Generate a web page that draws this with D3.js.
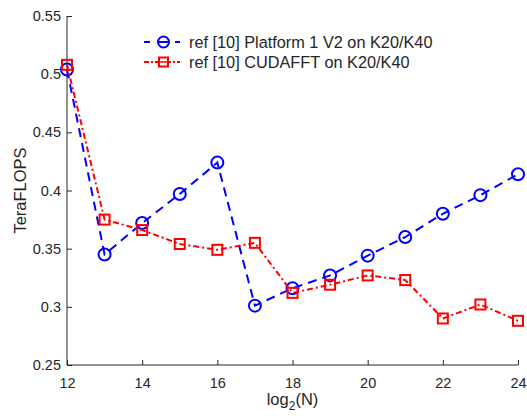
<!DOCTYPE html>
<html>
<head>
<meta charset="utf-8">
<script src="https://cdn.jsdelivr.net/npm/d3@7"></script>
<style>
  body { margin: 0; background: #fff; }
  svg text { font-family: "Liberation Sans", Arial, sans-serif; fill: #262626; }
</style>
</head>
<body>
<div id="chart"></div>
<script>
const log2N = [12, 13, 14, 15, 16, 17, 18, 19, 20, 21, 22, 23, 24];
const platformV2 = [0.504, 0.345, 0.372, 0.397, 0.424, 0.301, 0.316, 0.327, 0.344, 0.360, 0.380, 0.396, 0.414];
const cudafft    = [0.508, 0.375, 0.366, 0.354, 0.349, 0.355, 0.312, 0.319, 0.327, 0.323, 0.290, 0.302, 0.288];
const xTicks = [12, 14, 16, 18, 20, 22, 24];
const yTicks = [0.25, 0.3, 0.35, 0.4, 0.45, 0.5, 0.55];
const seriesNames = ["ref [10] Platform 1 V2 on K20/K40", "ref [10] CUDAFFT on K20/K40"];

const W = 527, H = 416;
const m = { top: 16, right: 9, bottom: 51, left: 67 };
const iw = W - m.left - m.right, ih = H - m.top - m.bottom;

const svg = d3.select("#chart").append("svg").attr("width", W).attr("height", H);
const g = svg.append("g").attr("transform", `translate(${m.left},${m.top})`);

const x = d3.scaleLinear().domain([12, 24]).range([0, iw]);
const y = d3.scaleLinear().domain([0.25, 0.55]).range([ih, 0]);

// axes, ticks pointing inward
const xa = g.append("g").attr("transform", `translate(0,${ih})`)
  .call(d3.axisBottom(x).tickValues(xTicks).tickSize(-5).tickPadding(10).tickFormat(d3.format("d")));
const ya = g.append("g")
  .call(d3.axisLeft(y).tickValues(yTicks).tickSize(-5).tickPadding(6).tickFormat(d => d3.format("")(+d.toFixed(2))));
[xa, ya].forEach(a => {
  a.selectAll("path,line").attr("stroke", "#262626").attr("stroke-width", 1);
  a.selectAll("text").attr("font-size", 14.5).attr("fill", "#262626");
  a.select(".domain").attr("d", a === xa ? `M0,0H${iw}` : `M0,0V${ih}`);
});
xa.selectAll("text").attr("dy", "0.9em");

// axis labels
const xl = svg.append("text").attr("x", m.left + iw / 2).attr("y", 405)
  .attr("text-anchor", "middle").attr("font-size", 16.5);
xl.append("tspan").text("log");
xl.append("tspan").attr("font-size", 12).attr("dy", 5).text("2");
xl.append("tspan").attr("dy", -5).text("(N)");
svg.append("text").attr("transform", `translate(26,${m.top + ih / 2}) rotate(-90)`)
  .attr("text-anchor", "middle").attr("font-size", 16.5).text("TeraFLOPS");

const line = d3.line().x((d, i) => x(log2N[i])).y(d => y(d));

// blue series
g.append("path").datum(platformV2).attr("d", line)
  .attr("fill", "none").attr("stroke", "#0000ff").attr("stroke-width", 2).attr("stroke-dasharray", "9,6");
g.append("g").selectAll("circle").data(platformV2).join("circle")
  .attr("cx", (d, i) => x(log2N[i])).attr("cy", d => y(d)).attr("r", 6)
  .attr("fill", "none").attr("stroke", "#0000ff").attr("stroke-width", 2);

// red series
g.append("path").datum(cudafft).attr("d", line)
  .attr("fill", "none").attr("stroke", "#ff0000").attr("stroke-width", 2).attr("stroke-dasharray", "6,3,2,3");
g.append("g").selectAll("rect").data(cudafft).join("rect")
  .attr("x", (d, i) => x(log2N[i]) - 5).attr("y", d => y(d) - 5)
  .attr("width", 10).attr("height", 10)
  .attr("fill", "none").attr("stroke", "#ff0000").attr("stroke-width", 2);

// legend
const lg = svg.append("g").attr("transform", "translate(144,42)");
lg.append("line").attr("x1", 0).attr("x2", 36).attr("y1", 0).attr("y2", 0)
  .attr("stroke", "#0000ff").attr("stroke-width", 2).attr("stroke-dasharray", "6,8,9,8,6");
lg.append("circle").attr("cx", 19.5).attr("cy", 0).attr("r", 5.5)
  .attr("fill", "none").attr("stroke", "#0000ff").attr("stroke-width", 2);
lg.append("line").attr("x1", 15).attr("x2", 24).attr("y1", 0).attr("y2", 0)
  .attr("stroke", "#0000ff").attr("stroke-width", 2);
lg.append("text").attr("x", 45).attr("y", 6).attr("font-size", 16.3).text(seriesNames[0]);

const lg2 = svg.append("g").attr("transform", "translate(144,62)");
lg2.append("line").attr("x1", 0).attr("x2", 36).attr("y1", 0).attr("y2", 0)
  .attr("stroke", "#ff0000").attr("stroke-width", 2).attr("stroke-dasharray", "5,2,2,2");
lg2.append("rect").attr("x", 15).attr("y", -4.5).attr("width", 9).attr("height", 9)
  .attr("fill", "#fff").attr("stroke", "#ff0000").attr("stroke-width", 2);
lg2.append("line").attr("x1", 16).attr("x2", 23).attr("y1", 0).attr("y2", 0)
  .attr("stroke", "#ff0000").attr("stroke-width", 1.5);
lg2.append("text").attr("x", 45).attr("y", 6).attr("font-size", 16.3).text(seriesNames[1]);
</script>
</body>
</html>
